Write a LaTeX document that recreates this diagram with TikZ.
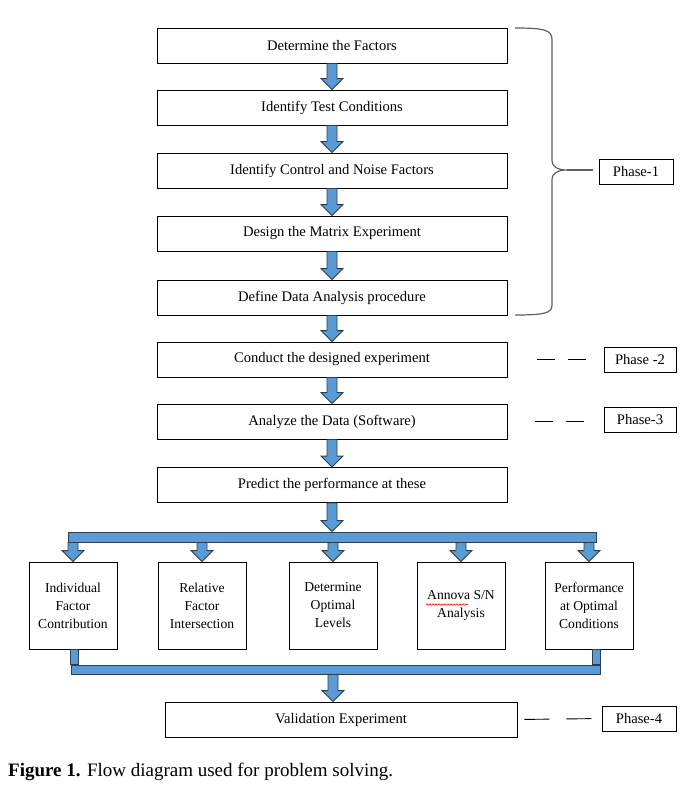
\documentclass[tikz,border=0pt]{standalone}
\usepackage{fontspec}
\setmainfont{Liberation Serif}
\usetikzlibrary{calc,decorations.pathmorphing}
\definecolor{arrowblue}{RGB}{91,155,213}
\definecolor{arrowedge}{RGB}{45,62,80}
\definecolor{bracegray}{RGB}{95,95,95}
\tikzset{
  box/.style={draw=black, line width=0.9pt, fill=white, minimum height=35pt, minimum width=350pt, inner sep=0pt, font=\fontsize{14.6}{18}\selectfont},
  smallbox/.style={draw=black, line width=0.9pt, fill=white, minimum width=88pt, minimum height=87pt, inner sep=0pt, align=center, font=\fontsize{13.6}{18}\selectfont},
  phasebox/.style={draw=black, line width=0.9pt, minimum width=73pt, minimum height=25pt, inner sep=0pt, font=\fontsize{14.6}{18}\selectfont},
  arrowsty/.style={fill=arrowblue, draw=arrowedge, line width=0.9pt, line join=miter},
  busbar/.style={arrowsty, inner sep=0pt, minimum height=#1},
  dashln/.style={draw=black, line width=0.9pt}
}
\newcommand\blockarrow[2]{%
  \path[arrowsty] let \p1=#1, \p2=#2 in
   (\x1-5pt,\y1) -- (\x1-5pt,\y2+11pt) -- (\x1-11pt,\y2+11pt) -- (\x1,\y2)
   -- (\x1+11pt,\y2+11pt) -- (\x1+5pt,\y2+11pt) -- (\x1+5pt,\y1) -- cycle;}
\begin{document}
\begin{tikzpicture}[x=1pt,y=-1pt]
\useasboundingbox (0,0) rectangle (694,790);
% main column
\node[box] (f1) at (332,45.5)  {Determine the Factors};
\node[box] (f2) at (332,107.5) {Identify Test Conditions};
\node[box] (f3) at (332,170.5) {Identify Control and Noise Factors};
\node[box] (f4) at (332,233.5) {Design the Matrix Experiment};
\node[box] (f5) at (332,297.5) {Define Data Analysis procedure};
\node[box] (f6) at (332,359.5) {Conduct the designed experiment};
\node[box] (f7) at (332,421.5) {Analyze the Data (Software)};
\node[box] (f8) at (332,485)   {Predict the performance at these};
\foreach \a/\b in {f1/f2,f2/f3,f3/f4,f4/f5,f5/f6,f6/f7,f7/f8}{
  \blockarrow{(\a.south)}{(\b.north)}
}
% top bus
\node[busbar=10pt, minimum width=528pt] (bus1) at (332,537) {};
\blockarrow{(f8.south)}{(bus1.north)}
% bottom boxes
\node[smallbox] (b1) at (73,605.5)  {Individual\\Factor\\Contribution};
\node[smallbox] (b2) at (202,605.5) {Relative\\Factor\\Intersection};
\node[smallbox] (b3) at (333,605.5) {Determine\\Optimal\\Levels};
\node[smallbox] (b4) at (461,605.5) {Annova S/N\\Analysis};
\node[smallbox] (b5) at (589,605.5) {Performance\\at Optimal\\Conditions};
\foreach \b in {b1,b2,b3,b4,b5}{
  \blockarrow{(bus1.south -| \b.north)}{(\b.north)}
}
\draw[red, line width=0.6pt, decorate, decoration={snake, amplitude=0.7pt, segment length=3pt}]
  ($(b4.center)+(-35,-1)$) -- ++(42,0);
% bottom bus
\node[busbar=9pt, minimum width=529pt] (bus2) at (335.5,669.5) {};
\path[arrowsty] let \p1=(b1.south), \p2=(bus2.north west) in (\x2,\y1) rectangle (\x2+8pt,\y2);
\path[arrowsty] let \p1=(b5.south), \p2=(bus2.north east) in (\x2-8pt,\y1) rectangle (\x2,\y2);
\node[box, minimum width=352pt] (val) at (341,719.5) {Validation Experiment};
\blockarrow{(bus2.south -| b3.south)}{(val.north -| b3.south)}
% phases
\node[phasebox, minimum width=74pt] (p1) at (636,171.5) {Phase-1};
\node[phasebox, minimum width=72pt] (p2) at (640,359.5) {Phase -2};
\node[phasebox, minimum width=72pt] (p3) at (640,419.5) {Phase-3};
\node[phasebox, minimum width=74pt] (p4) at (639,718.5) {Phase-4};
% brace
\coordinate (tip) at (567,170);
\draw[bracegray, line width=1.2pt]
  (515,28) .. controls (545,28) and (552,30) .. (552,40) -- (552,160)
  .. controls (552,167) and (558,170) .. (tip)
  .. controls (558,170) and (552,173) .. (552,180) -- (552,305)
  .. controls (552,313) and (545,315) .. (515,315);
\draw[bracegray, line width=1.2pt, shorten >=6pt] (tip) -- (p1.west |- tip);
% dashed connectors
\draw[dashln, dash pattern=on 18pt off 13pt, shorten <=30pt, shorten >=17pt] (f6.east) -- (p2.west);
\draw[dashln, dash pattern=on 18pt off 13pt, shorten <=28pt, shorten >=19pt] (f7.east) -- (f7.east -| p3.west);
\draw[dashln, dash pattern=on 25pt off 17pt, shorten <=7pt, shorten >=9pt] (val.east) -- (p4.west);
% caption
\node[anchor=base west, inner sep=0pt, font=\fontsize{19}{22}\selectfont] (cap) at (8,776)
  {\textbf{Figure 1.} Flow diagram used for problem solving.};
\end{tikzpicture}
\end{document}
